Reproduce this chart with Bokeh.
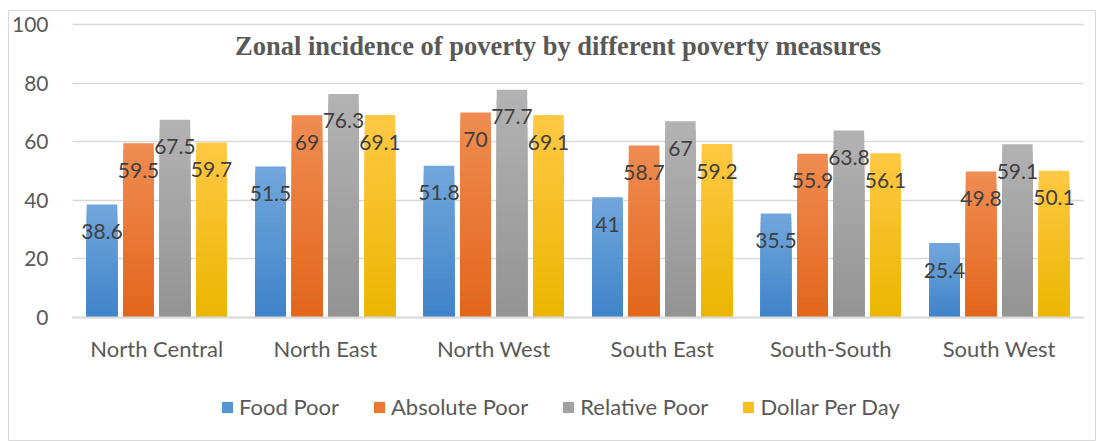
from bokeh.plotting import figure
from bokeh.models import (ColumnDataSource, LabelSet, Label, Legend, LegendItem,
                          FixedTicker, Range1d, Grid)
from bokeh.transform import dodge
from bokeh.core.properties import value
from bokeh.embed import file_html
from bokeh.resources import INLINE

# ---- data ----
zones = ["North Central", "North East", "North West", "South East", "South-South", "South West"]
food_poor = [38.6, 51.5, 51.8, 41, 35.5, 25.4]
absolute_poor = [59.5, 69, 70, 58.7, 55.9, 49.8]
relative_poor = [67.5, 76.3, 77.7, 67, 63.8, 59.1]
dollar_per_day = [59.7, 69.1, 69.1, 59.2, 56.1, 50.1]
series_names = ["Food Poor", "Absolute Poor", "Relative Poor", "Dollar Per Day"]
y_ticks = [0, 20, 40, 60, 80, 100]
title_text = "Zonal incidence of poverty by different poverty measures"

# ---- styling / layout ----
top_colors = ["#72A7DC", "#F08C52", "#B3B3B3", "#FFC844"]
bottom_colors = ["#3F83C9", "#E2661B", "#939393", "#EBB600"]
offsets = [-0.325, -0.108, 0.108, 0.325]
bar_w = 0.181
FONT = "Lato"
W, H = 1096, 441
FRAME_L, FRAME_T = 8, 10       # frame (chart border) offset inside canvas
PX_CAT = 168.5                 # pixels per category
PX_UNIT = 2.93                 # pixels per y unit
AXIS_X, AXIS_TOP = 72, 24      # canvas pixel of category area left edge / of y=100

n = len(zones)
x_start = -0.5 - (AXIS_X - FRAME_L) / PX_CAT
x_end = x_start + (W - FRAME_L) / PX_CAT
y_end = y_ticks[-1] + (AXIS_TOP - FRAME_T) / PX_UNIT
y_start = y_end - (H - FRAME_T) / PX_UNIT

cols = ["food", "absolute", "relative", "dollar"]
values = [food_poor, absolute_poor, relative_poor, dollar_per_day]
data = {"zone": zones, "xpos": list(range(n))}
for c, v in zip(cols, values):
    data[c] = v
    data[c + "_txt"] = [f"{x:g}" for x in v]
src = ColumnDataSource(data)


def hex2rgb(h):
    return tuple(int(h[i:i + 2], 16) for i in (1, 3, 5))


def lerp(c0, c1, t):
    a, b = hex2rgb(c0), hex2rgb(c1)
    return "#%02x%02x%02x" % tuple(round(a[i] + (b[i] - a[i]) * t) for i in range(3))


p = figure(
    x_range=Range1d(x_start, x_end), y_range=Range1d(y_start, y_end),
    width=W, height=H,
    output_backend="svg", toolbar_location=None,
    min_border=0, min_border_left=FRAME_L, min_border_right=0,
    min_border_top=FRAME_T, min_border_bottom=0,
)
p.outline_line_color = "#d9d9d9"
p.outline_line_width = 1
p.background_fill_color = "white"
p.border_fill_color = "white"

# grid lines only across the category area
p.xgrid.visible = False
p.ygrid.ticker = FixedTicker(ticks=y_ticks)
p.ygrid.grid_line_color = "#d9d9d9"
p.ygrid.grid_line_width = 1.5
if "cross_bounds" in Grid.properties():
    p.ygrid.cross_bounds = (-0.5, n - 0.5)
else:
    p.ygrid.visible = False
    p.segment(x0=[-0.5] * len(y_ticks), x1=[n - 0.5] * len(y_ticks), y0=y_ticks, y1=y_ticks,
              line_color="#d9d9d9", line_width=1.5)

yax = p.yaxis[0]
yax.fixed_location = -0.5
yax.bounds = (y_ticks[0], y_ticks[-1])
yax.ticker = FixedTicker(ticks=y_ticks)
yax.axis_line_color = None
yax.major_tick_line_color = None
yax.minor_tick_line_color = None
yax.major_tick_out = 0
yax.major_tick_in = 0
yax.major_label_standoff = 24
yax.major_label_text_font = FONT
yax.major_label_text_font_size = "21px"
yax.major_label_text_color = "#595959"

xax = p.xaxis[0]
xax.fixed_location = 0
xax.bounds = (-0.5, n - 0.5)
xax.ticker = FixedTicker(ticks=list(range(n)))
xax.major_label_overrides = {i: z for i, z in enumerate(zones)}
xax.axis_line_color = "#d9d9d9"
xax.axis_line_width = 2
xax.major_tick_line_color = None
xax.minor_tick_line_color = None
xax.major_tick_out = 0
xax.major_tick_in = 0
xax.major_label_standoff = 17
xax.major_label_text_font = FONT
xax.major_label_text_font_size = "22px"
xax.major_label_text_color = "#595959"

# bars with a vertical gradient: nested bars from 0, tallest (lightest) drawn first
N_SLICES = 24
items = []
for c, v, name, ctop, cbot, off in zip(cols, values, series_names, top_colors, bottom_colors, offsets):
    xs, tops, fills = [], [], []
    for i, val in enumerate(v):
        for k in range(N_SLICES - 1, -1, -1):
            xs.append(i + off)
            tops.append(val * (k + 1) / N_SLICES)
            fills.append(lerp(cbot, ctop, (k + 0.5) / N_SLICES))
    ssrc = ColumnDataSource(dict(x=xs, top=tops, fill=fills))
    r = p.vbar(x="x", top="top", bottom=0, width=bar_w, source=ssrc,
               fill_color="fill", line_color=None)
    items.append(LegendItem(label=name, renderers=[r], index=N_SLICES // 2))
    labels = LabelSet(x=dodge("xpos", off), y=c, text=c + "_txt", source=src,
                      y_offset=-27, text_align="center", text_baseline="middle",
                      text_font=value(FONT), text_font_size="21px", text_color="#404040")
    p.add_layout(labels)

legend = Legend(items=items, orientation="horizontal", location=(212, 21),
                padding=0, margin=0, spacing=33, label_standoff=5,
                glyph_width=14, glyph_height=14,
                label_text_font=FONT, label_text_font_size="22px", label_text_color="#595959",
                border_line_color=None, background_fill_alpha=0)
p.add_layout(legend, "center")

title = Label(x=549.5, y=396, x_units="screen", y_units="screen", text=title_text,
              text_align="center", text_baseline="alphabetic",
              text_font="Liberation Serif", text_font_style="bold",
              text_font_size="26.5px", text_color="#595959")
p.add_layout(title)

open("out.html", "w").write(file_html(p, INLINE))
